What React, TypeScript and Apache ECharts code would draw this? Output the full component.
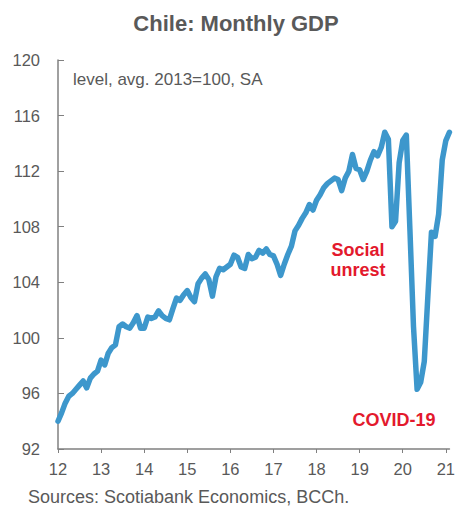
import React, { useEffect, useRef } from "react";
import * as echarts from "echarts";

const startYear = 2012;
const yearLabels = ["12", "13", "14", "15", "16", "17", "18", "19", "20", "21"];

// Monthly GDP, level, avg. 2013=100, SA — Jan 2012 .. Feb 2021
const gdp2012 = [94.0, 94.6, 95.3, 95.8, 96.0, 96.3, 96.6, 96.9, 96.4, 97.1, 97.4, 97.6];
const gdp2013 = [98.4, 98.05, 98.9, 99.3, 99.5, 100.8, 101.0, 100.8, 100.7, 101.1, 101.6, 100.7];
const gdp2014 = [100.7, 101.5, 101.4, 101.5, 101.95, 101.6, 101.4, 101.3, 102.1, 102.86, 102.7, 103.1];
const gdp2015 = [103.4, 102.9, 102.6, 103.9, 104.3, 104.6, 104.2, 103.0, 104.4, 105.0, 104.9, 105.1];
const gdp2016 = [105.3, 105.95, 105.8, 105.1, 105.0, 106.0, 105.7, 105.8, 106.3, 106.1, 106.4, 106.0];
const gdp2017 = [105.9, 105.3, 104.5, 105.3, 106.0, 106.6, 107.7, 108.1, 108.6, 109.0, 109.6, 109.2];
const gdp2018 = [109.9, 110.3, 110.8, 111.1, 111.3, 111.5, 111.4, 110.6, 111.5, 112.0, 113.2, 112.2];
const gdp2019 = [112.1, 111.4, 112.0, 112.8, 113.4, 113.1, 113.7, 114.8, 114.3, 108.0, 108.4, 112.6];
const gdp2020 = [114.2, 114.6, 107.8, 100.8, 96.3, 96.8, 98.3, 103.0, 107.6, 107.3, 108.9, 112.8];
const gdp2021 = [114.2, 114.8];

const gdpValues = [
  ...gdp2012, ...gdp2013, ...gdp2014, ...gdp2015, ...gdp2016,
  ...gdp2017, ...gdp2018, ...gdp2019, ...gdp2020, ...gdp2021,
];

const months: string[] = gdpValues.map((_, i) => {
  const y = startYear + Math.floor(i / 12);
  const m = (i % 12) + 1;
  return `${y}-${m < 10 ? "0" + m : m}`;
});

const yTicks = [92, 96, 100, 104, 108, 112, 116, 120];

const GREY = "#595959";
const AXIS = "#808080";
const RED = "#e3192d";
const BLUE = "#3d97cc";
const FONT = "'Liberation Sans', Arial, sans-serif";

export default function App() {
  const ref = useRef<HTMLDivElement>(null);

  useEffect(() => {
    if (!ref.current) return;
    const chart = echarts.init(ref.current, undefined, { renderer: "svg" });
    const isYearStart = (idx: number) => idx % 12 === 0;
    chart.setOption({
      animation: false,
      textStyle: { fontFamily: FONT },
      grid: { left: 58, right: 7.6, top: 60, bottom: 59, containLabel: false },
      xAxis: {
        type: "category",
        data: months,
        boundaryGap: false,
        axisLine: { show: true, lineStyle: { color: AXIS, width: 1.5 } },
        axisTick: { show: true, inside: false, length: 4, interval: (idx: number) => isYearStart(idx), lineStyle: { color: AXIS } },
        axisLabel: {
          interval: (idx: number) => isYearStart(idx),
          formatter: (val: string, idx: number) => yearLabels[Math.floor(idx / 12)] ?? "",
          color: GREY,
          fontSize: 16.5,
          fontFamily: FONT,
          margin: 11,
        },
        splitLine: { show: false },
      },
      yAxis: {
        type: "value",
        min: yTicks[0],
        max: yTicks[yTicks.length - 1],
        interval: 4,
        axisLine: { show: true, lineStyle: { color: AXIS, width: 1.5 } },
        axisTick: { show: true, inside: true, length: 6, lineStyle: { color: AXIS } },
        axisLabel: { color: GREY, fontSize: 16.5, fontFamily: FONT, margin: 18 },
        splitLine: { show: false },
      },
      series: [
        {
          type: "line",
          data: gdpValues,
          showSymbol: false,
          symbol: "none",
          lineStyle: { color: BLUE, width: 5.5, cap: "round", join: "round" },
        },
      ],
      graphic: [
        {
          type: "text",
          x: 236,
          y: 23,
          style: { text: "Chile: Monthly GDP", fill: GREY, font: `bold 22px ${FONT}`, textAlign: "center", textVerticalAlign: "middle" },
        },
        {
          type: "text",
          x: 73,
          y: 79,
          style: { text: "level, avg. 2013=100, SA", fill: GREY, font: `17px ${FONT}`, textAlign: "left", textVerticalAlign: "middle" },
        },
        {
          type: "text",
          x: 358,
          y: 250,
          style: { text: "Social", fill: RED, font: `bold 18px ${FONT}`, textAlign: "center", textVerticalAlign: "middle" },
        },
        {
          type: "text",
          x: 358,
          y: 270,
          style: { text: "unrest", fill: RED, font: `bold 18px ${FONT}`, textAlign: "center", textVerticalAlign: "middle" },
        },
        {
          type: "text",
          x: 394,
          y: 420,
          style: { text: "COVID-19", fill: RED, font: `bold 18px ${FONT}`, textAlign: "center", textVerticalAlign: "middle" },
        },
        {
          type: "text",
          x: 28,
          y: 497,
          style: { text: "Sources: Scotiabank Economics, BCCh.", fill: GREY, font: `18px ${FONT}`, textAlign: "left", textVerticalAlign: "middle" },
        },
      ],
    });
    return () => chart.dispose();
  }, []);

  return (
    <div
      ref={ref}
      style={{ position: "absolute", left: 0, top: 0, width: 458, height: 508, background: "#ffffff" }}
    />
  );
}
